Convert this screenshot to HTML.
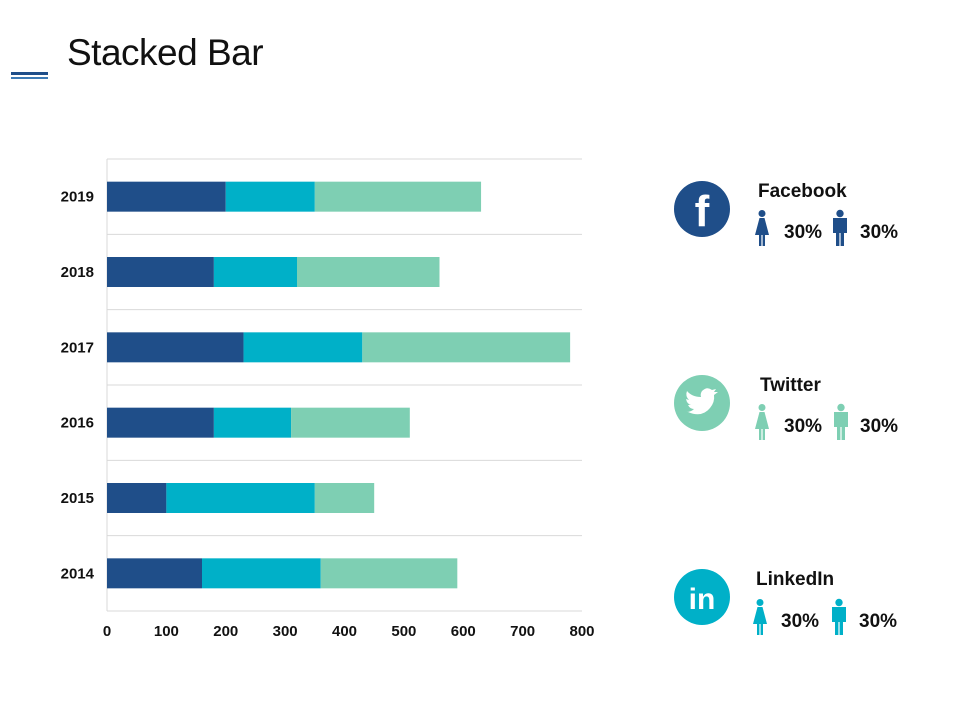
<!DOCTYPE html>
<html><head><meta charset="utf-8"><style>
body{margin:0;width:960px;height:720px;background:#fff;font-family:"Liberation Sans",sans-serif;overflow:hidden;position:relative}
</style></head><body>
<div style="position:absolute;left:11px;top:72px;width:37px;height:3px;background:#1f4e89"></div>
<div style="position:absolute;left:11px;top:77px;width:37px;height:2px;background:#3d7ab5"></div>
<div style="position:absolute;left:67px;top:32px;font-size:37px;color:#111;letter-spacing:-0.5px">Stacked Bar</div>
<svg id="chart" width="960" height="720" style="position:absolute;left:0;top:0"></svg>
<svg width="960" height="720" style="position:absolute;left:0;top:0">
<defs>
<g id="fem"><circle cx="0" cy="3.5" r="3.5"/><path d="M-2.5,8 L2.5,8 L7,25 L3,25 L3,36 L0.6,36 L0.6,25 L-0.6,25 L-0.6,36 L-3,36 L-3,25 L-7,25 Z"/></g>
<g id="mal"><circle cx="0" cy="3.5" r="3.7"/><path d="M-7,8 L7,8 L7,23 L4,23 L4,36 L0.6,36 L0.6,23 L-0.6,23 L-0.6,36 L-4,36 L-4,23 L-7,23 Z"/></g>
</defs>
<circle cx="702" cy="209" r="28" fill="#1f4e89"/>
<text x="702" y="226" font-family="Liberation Sans" font-weight="bold" font-size="44" fill="#fff" text-anchor="middle">f</text>
<text x="758" y="197" font-family="Liberation Sans" font-weight="bold" font-size="19" fill="#111">Facebook</text>
<use href="#fem" x="762" y="210" fill="#1f4e89"/><use href="#mal" x="840" y="210" fill="#1f4e89"/>
<text x="784" y="238" font-family="Liberation Sans" font-weight="bold" font-size="19" fill="#111">30%</text>
<text x="860" y="238" font-family="Liberation Sans" font-weight="bold" font-size="19" fill="#111">30%</text>

<circle cx="702" cy="403" r="28" fill="#7ecfb3"/>
<path d="M688,412 q14,6 22,-4 q5,-6 4,-13 l4,-3 l-4,0 l2,-3 l-4,1 q-5,-4 -10,1 q-2,3 -1,6 q-9,0 -14,-6 q-2,5 2,9 l-3,-1 q1,5 5,6 l-3,0 q2,4 6,4 q-3,3 -8,3z" fill="#fff"/>
<text x="760" y="391" font-family="Liberation Sans" font-weight="bold" font-size="19" fill="#111">Twitter</text>
<use href="#fem" x="762" y="404" fill="#7ecfb3"/><use href="#mal" x="841" y="404" fill="#7ecfb3"/>
<text x="784" y="432" font-family="Liberation Sans" font-weight="bold" font-size="19" fill="#111">30%</text>
<text x="860" y="432" font-family="Liberation Sans" font-weight="bold" font-size="19" fill="#111">30%</text>

<circle cx="702" cy="597" r="28" fill="#00b0c8"/>
<text x="702" y="609" font-family="Liberation Sans" font-weight="bold" font-size="30" fill="#fff" text-anchor="middle">in</text>
<text x="756" y="585" font-family="Liberation Sans" font-weight="bold" font-size="19" fill="#111">LinkedIn</text>
<use href="#fem" x="760" y="599" fill="#00b0c8"/><use href="#mal" x="839" y="599" fill="#00b0c8"/>
<text x="781" y="627" font-family="Liberation Sans" font-weight="bold" font-size="19" fill="#111">30%</text>
<text x="859" y="627" font-family="Liberation Sans" font-weight="bold" font-size="19" fill="#111">30%</text>
</svg>
<script>
const categories=["2019","2018","2017","2016","2015","2014"];
const series1=[200,180,230,180,100,160];
const series2=[150,140,200,130,250,200];
const series3=[280,240,350,200,100,230];
const xTicks=[0,100,200,300,400,500,600,700,800];
const colors=["#1f4e89","#00b0c8","#7ecfb3"];
const NS="http://www.w3.org/2000/svg";
const svg=document.getElementById('chart');
const x0=107,x1=582,y0=159,y1=611,xMax=800;
const X=v=>x0+(v/xMax)*(x1-x0);
const band=(y1-y0)/categories.length;
const Y=i=>y0+band*i;
function mk(t,a){const e=document.createElementNS(NS,t);for(const k in a)e.setAttribute(k,a[k]);svg.appendChild(e);return e;}
for(let i=0;i<=categories.length;i++){
 const l=mk('line',{x1:x0,x2:x1,y1:Y(i),y2:Y(i),stroke:'#d9d9d9','stroke-width':1});
 
 
}
const ax=mk('line',{x1:x0,x2:x0,y1:y0,y2:y1,stroke:'#d9d9d9'});


categories.forEach((c,i)=>{
 const cy=Y(i)+band/2;
 const t=mk('text',{x:94,y:cy+5,'text-anchor':'end','font-size':15,'font-weight':'bold','font-family':'Liberation Sans',fill:'#111'});
 t.textContent=c;
 
 
 let acc=0;
 [series1,series2,series3].forEach((s,k)=>{
  const r=mk('rect',{x:X(acc),y:cy-15,width:X(acc+s[i])-X(acc),height:30,fill:colors[k]});
  
  
  acc+=s[i];
 });
});
xTicks.forEach(v=>{
 const t=mk('text',{x:X(v),y:636,'text-anchor':'middle','font-size':15,'font-weight':'bold','font-family':'Liberation Sans',fill:'#111'});
 t.textContent=v;
 
 
});
</script>
</body></html>
